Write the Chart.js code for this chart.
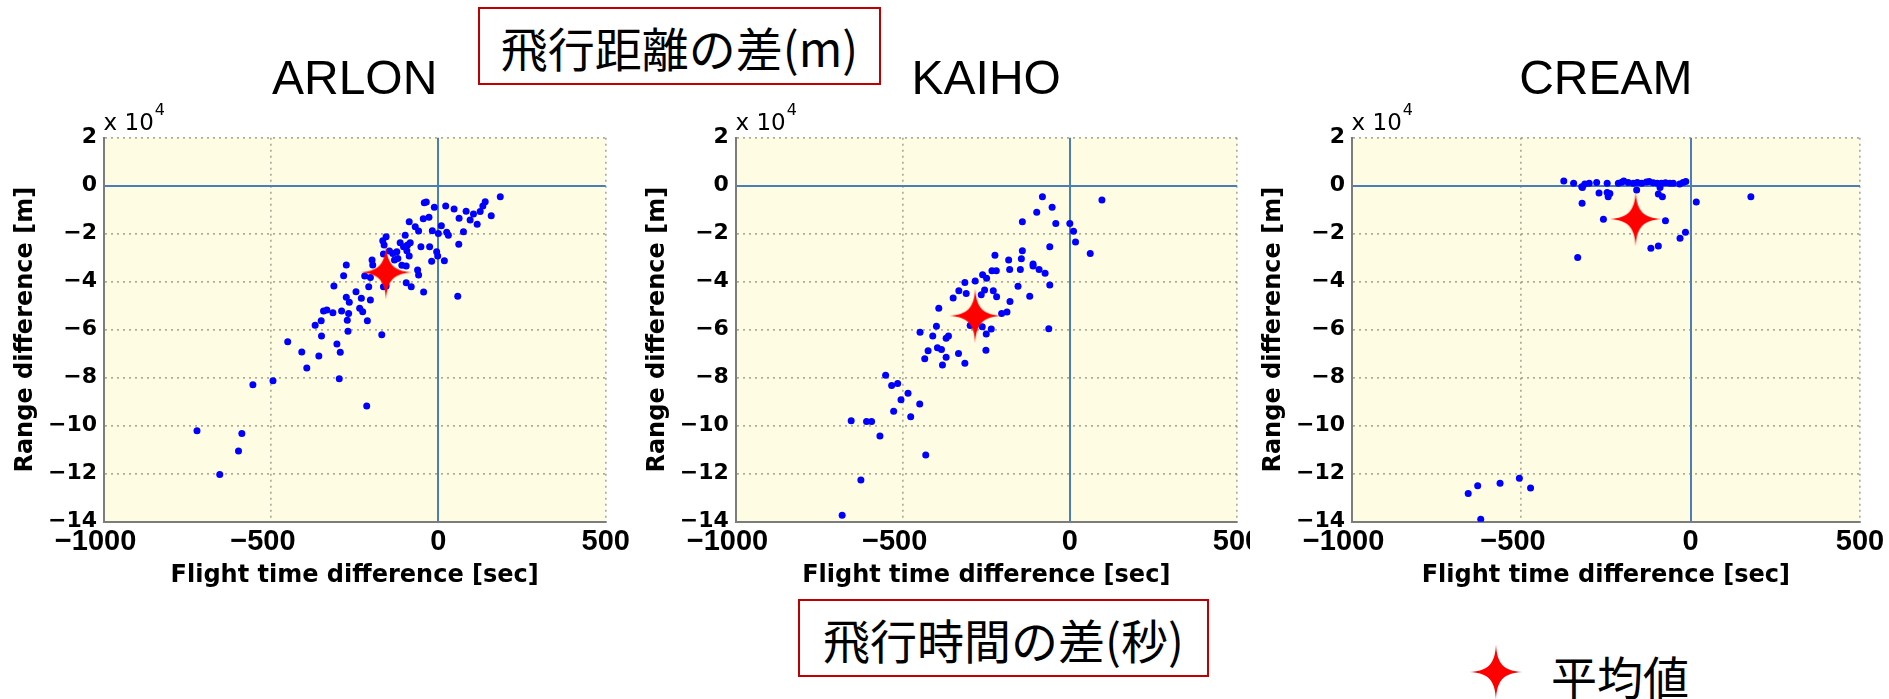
<!DOCTYPE html>
<html>
<head>
<meta charset="utf-8">
<script src="https://cdn.jsdelivr.net/npm/chart.js@4.4.0/dist/chart.umd.min.js"></script>
<style>
  html, body { margin: 0; padding: 0; background: #fff; }
  body { width: 1889px; height: 699px; position: relative; overflow: hidden; }
  canvas.panel { position: absolute; top: 40px; }
  .note {
    position: absolute; box-sizing: border-box; border: 2px solid #c00000; background: #fff;
    font-family: "Noto Sans CJK JP", sans-serif; font-size: 47px; line-height: 1; color: #000;
    display: flex; align-items: center; justify-content: center; white-space: nowrap; z-index: 5;
  }
  #legendText {
    position: absolute; left: 1551px; top: 652px; font-family: "Noto Sans CJK JP", sans-serif;
    font-size: 46px; line-height: 1; color: #000; white-space: nowrap;
  }
  #legendStar { position: absolute; z-index: 4; }
</style>
</head>
<body>
<canvas id="c0" class="panel"></canvas>
<canvas id="c1" class="panel"></canvas>
<canvas id="c2" class="panel"></canvas>
<div class="note" style="left:478px;top:7px;width:403px;height:78px;">飛行距離の差(m)</div>
<div class="note" style="left:798px;top:599px;width:411px;height:78px;">飛行時間の差(秒)</div>
<div id="legendText">平均値</div>
<script>
// ---- axis ticks ----
const xTicks = [-1000, -500, 0, 500];                    // seconds
const yTicks = [-14, -12, -10, -8, -6, -4, -2, 0, 2];    // x 10^4 m
const yExponent = 4;
const panelTitles = ['ARLON', 'KAIHO', 'CREAM'];
const meanLabel = '平均値';

// ---- ARLON: flight time difference [s], range difference [m] ----
const arlonTime = [185,140,133,125,105,83,95,158,116,62,47,22,-12,-36,-42,-28,-45,9,25,30,0,-18,75,61,18,-5,-2,-20,-26,-52,
  -87,-69,-59,-99,-114,-84,-104,-94,-87,-121,-131,-136,-156,-166,-162,-164,-198,-196,-275,-283,-220,-203,-208,-312,-246,
  -275,-266,-230,-203,-235,-226,-289,-268,-315,-333,-343,-350,-368,-272,-212,-270,-349,-169,-303,-293,-357,-408,-393,
  -296,-214,-62,-59,-96,-81,-44,58,-156,-164,-109,-96,-146,-92,-124,-450,-554,-494,-721,-587,-597,-653];
const arlonRange = [-4600,-6700,-8500,-10800,-11800,-10600,-14300,-12500,-16100,-13600,-9700,-8500,-9000,-6800,-7100,
  -13100,-13800,-16700,-19400,-20600,-19900,-18800,-19200,-24400,-31300,-27500,-29300,-31500,-25400,-25400,-15000,-17100,
  -18900,-20600,-23800,-23800,-25400,-27100,-29300,-30300,-31000,-28200,-21300,-22900,-24700,-28500,-31000,-33000,-33000,
  -37500,-37600,-38200,-42100,-41800,-44200,-46500,-48600,-46900,-47600,-51100,-52500,-52200,-53200,-52900,-51800,-52200,
  -56300,-58100,-56100,-56300,-60600,-62600,-62100,-66000,-69400,-71000,-69300,-76000,-80400,-91800,-35100,-37200,-40400,
  -42100,-44300,-46100,-41800,-42100,-33100,-33500,-27200,-24700,-27500,-65000,-82900,-81300,-102100,-103200,-110500,-120300];
const arlonMean = [-156, -36100];

// ---- KAIHO ----
const kaihoTime = [96,-82,-53,-99,-42,-142,0,11,17,61,-60,-142,-145,-183,-224,-180,-148,-110,-110,-92,-74,-60,-155,-120,
  -233,-220,-261,-249,-283,-314,-332,-310,-265,-255,-229,-219,-179,-349,-392,-188,-204,-298,-262,-235,-250,-63,-399,-448,
  -410,-370,-363,-396,-384,-424,-370,-434,-333,-381,-314,-251,-551,-533,-515,-484,-505,-449,-527,-476,-608,-593,-654,
  -568,-431,-625,-681];
const kaihoRange = [-6000,-4600,-9000,-11100,-15700,-15000,-15700,-19000,-23500,-28300,-25400,-27100,-30400,-31000,-29000,
  -34900,-34900,-32600,-33500,-34900,-36500,-41400,-41900,-46100,-35400,-35400,-37100,-38600,-39700,-40300,-43800,-44900,
  -45400,-43500,-43800,-46300,-48300,-46800,-51100,-52600,-53200,-58200,-58800,-59700,-61800,-59600,-58600,-61100,-62600,
  -63600,-62600,-67500,-68200,-68800,-71500,-72100,-69900,-74700,-74000,-68600,-79000,-83300,-82400,-86500,-89200,-91000,
  -94000,-96300,-98200,-98200,-97900,-104300,-112200,-122600,-137300];
const kaihoMean = [-283, -54200];

// ---- CREAM ----
const creamTime = [-374,-345,-321,-312,-299,-277,-246,-213,-203,-197,-184,-169,-157,-144,-130,-122,-110,-98,-86,-74,-61,
  -51,-32,-22,-14,-319,-159,-90,-270,-246,-238,-243,-95,-83,-320,17,178,-257,-74,-15,-31,-95,-117,-333,-656,-628,-562,
  -505,-472,-619];
const creamRange = [2000,1000,-400,700,1000,1300,1000,1000,1400,2000,1300,1000,1300,1000,1500,1800,1200,1000,1000,1200,
  1000,1000,700,1300,1700,-800,-1800,-700,-3000,-2800,-3200,-4600,-3500,-4600,-7300,-6800,-4600,-14000,-14600,-19400,
  -21900,-25100,-26100,-29900,-128300,-125000,-124000,-121900,-126000,-139000];
const creamMean = [-162, -13900];

const seriesTime = [arlonTime, kaihoTime, creamTime];
const seriesRange = [arlonRange, kaihoRange, creamRange];
const seriesMean = [arlonMean, kaihoMean, creamMean];

// ---- page geometry of the three panels ----
const panelLayout = [
  { left: 0,    width: 632, yAxisWidth: 103.6, yTitlePad: 11.3, padRight: 26.3 },
  { left: 631,  width: 619, yAxisWidth: 104.5, yTitlePad: 12.3, padRight: 10 },
  { left: 1248, width: 641, yAxisWidth: 103.6, yTitlePad: 11.6, padRight: 29 }
];
const PANEL_HEIGHT = 560;

// four-pointed star used as the marker of the mean value
function makeStar(hw, hh, color) {
  const c = document.createElement('canvas');
  c.width = 2 * Math.ceil(hw) + 2;
  c.height = 2 * Math.ceil(hh) + 2;
  const g = c.getContext('2d');
  g.translate(c.width / 2, c.height / 2);
  g.beginPath();
  g.moveTo(0, -hh);
  g.bezierCurveTo(1, -8, 8, -1, hw, 0);
  g.bezierCurveTo(8, 1, 1, 8, 0, hh);
  g.bezierCurveTo(-1, 8, -8, 1, -hw, 0);
  g.bezierCurveTo(-8, -1, -1, -8, 0, -hh);
  g.closePath();
  g.fillStyle = color;
  g.fill();
  return c;
}
const starMarker = makeStar(26, 27.5, '#ff0000');

const minus = '\u2212';
function fmtX(v) { return v < 0 ? minus + Math.abs(v) + '\u2007' : String(v); }
function fmtY(v) { return v < 0 ? minus + Math.abs(v) : String(v); }

const plotBackground = {
  id: 'plotBackground',
  beforeDraw(chart) {
    const { ctx, chartArea: a } = chart;
    ctx.save();
    ctx.fillStyle = '#fffce4';
    ctx.fillRect(a.left, a.top, a.right - a.left, a.bottom - a.top);
    ctx.restore();
  }
};

const exponentLabel = {
  id: 'exponentLabel',
  afterDraw(chart) {
    const { ctx, chartArea: a } = chart;
    ctx.save();
    ctx.fillStyle = '#000';
    ctx.textAlign = 'left';
    ctx.textBaseline = 'alphabetic';
    ctx.font = '23px "DejaVu Sans"';
    const base = 'x 10';
    ctx.fillText(base, a.left, a.top - 7.7);
    const w = ctx.measureText(base).width;
    ctx.font = '16px "DejaVu Sans"';
    ctx.fillText(String(yExponent), a.left + w + 1, a.top - 22.5);
    ctx.restore();
  }
};

const isZero = c => c.tick && c.tick.value === 0;
const gridColor = c => isZero(c) ? '#4a7ebb' : 'rgba(130,130,115,0.65)';
const gridWidth = c => isZero(c) ? 2 : 1.7;
const gridDash = c => isZero(c) ? [] : [2, 4];

panelLayout.forEach((geo, i) => {
  const cv = document.getElementById('c' + i);
  cv.width = geo.width;
  cv.height = PANEL_HEIGHT;
  cv.style.left = geo.left + 'px';

  const points = seriesTime[i].map((t, k) => ({ x: t, y: seriesRange[i][k] }));
  const mean = [{ x: seriesMean[i][0], y: seriesMean[i][1] }];

  new Chart(cv, {
    type: 'scatter',
    data: {
      datasets: [
        { label: meanLabel, data: mean, pointStyle: starMarker, pointRadius: 12, order: 0 },
        { label: panelTitles[i], data: points, pointRadius: 3.5, pointBackgroundColor: '#0000ff',
          pointBorderWidth: 0, order: 1 }
      ]
    },
    options: {
      responsive: false,
      animation: false,
      events: [],
      layout: { padding: { left: 0, top: 0, bottom: 0, right: geo.padRight } },
      plugins: {
        legend: { display: false },
        tooltip: { enabled: false },
        title: {
          display: true, text: panelTitles[i], fullSize: false, color: '#000',
          font: { family: '"Liberation Sans", Arial, sans-serif', size: 48, weight: 'normal', lineHeight: 1 },
          padding: { top: 17, bottom: 32.7 }
        }
      },
      scales: {
        x: {
          type: 'linear', min: -1000, max: 500,
          afterBuildTicks: s => { s.ticks = xTicks.map(v => ({ value: v })); },
          afterFit: s => { s.height = 78.3; s.paddingLeft = 0; s.paddingRight = 0; },
          ticks: {
            autoSkip: false, maxRotation: 0, padding: 2.6, color: '#000',
            font: { family: '"Liberation Sans", Arial, sans-serif', size: 29, weight: 'bold' },
            callback: v => fmtX(v)
          },
          grid: { drawTicks: false, color: gridColor, lineWidth: gridWidth },
          border: { display: true, color: '#7c7c7c', width: 2, dash: gridDash },
          title: {
            display: true, text: 'Flight time difference [sec]', color: '#000',
            font: { family: '"DejaVu Sans", sans-serif', size: 24, weight: 'bold', lineHeight: 1.2 },
            padding: { top: 0, bottom: 9.7 }
          }
        },
        y: {
          type: 'linear', min: -140000, max: 20000,
          afterBuildTicks: s => { s.ticks = yTicks.map(v => ({ value: v * 10000 })); },
          afterFit: s => { s.width = geo.yAxisWidth; s.paddingTop = 0; s.paddingBottom = 0; },
          ticks: {
            autoSkip: false, padding: 6.6, color: '#000',
            font: { family: '"DejaVu Sans", sans-serif', size: 22, weight: 'bold' },
            callback: v => fmtY(v / 10000)
          },
          grid: { drawTicks: false, color: gridColor, lineWidth: gridWidth },
          border: { display: true, color: '#7c7c7c', width: 2, dash: gridDash },
          title: {
            display: true, text: 'Range difference [m]', color: '#000',
            font: { family: '"DejaVu Sans", sans-serif', size: 24, weight: 'bold', lineHeight: 1.2 },
            padding: { top: geo.yTitlePad, bottom: 0 }
          }
        }
      }
    },
    plugins: [plotBackground, exponentLabel]
  });
});

// legend marker beside the mean-value label
const legendStar = makeStar(26, 27.5, '#ff0000');
legendStar.id = 'legendStar';
legendStar.style.left = (1496 - legendStar.width / 2) + 'px';
legendStar.style.top = (672 - legendStar.height / 2) + 'px';
document.body.appendChild(legendStar);
</script>
</body>
</html>
